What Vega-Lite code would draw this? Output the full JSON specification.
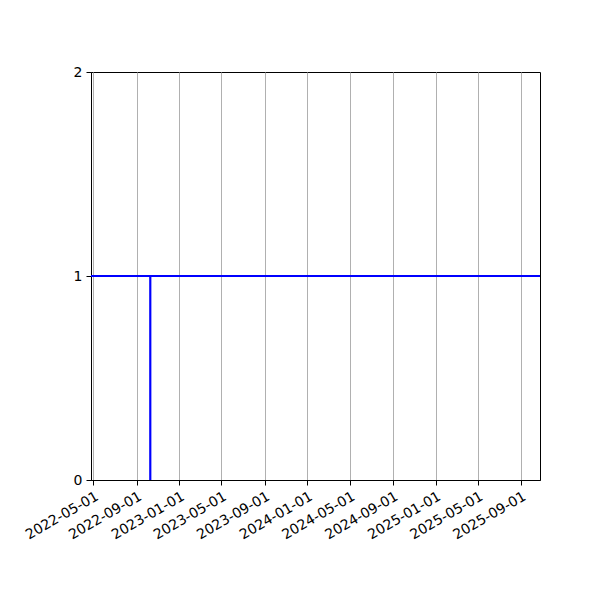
{
  "$schema": "https://vega.github.io/schema/vega-lite/v6.json",
  "width": 449,
  "height": 408,
  "autosize": "none",
  "padding": {"left": 91, "top": 72, "right": 60, "bottom": 120},
  "data": {"values": [
    {"date": "2022-10-10", "low": 0, "high": 1}
  ]},
  "encoding": {
    "x": {
      "field": "date", "type": "temporal",
      "scale": {"type": "utc", "domain": [
        {"year": 2022, "month": 4, "date": 24, "utc": true},
        {"year": 2025, "month": 10, "date": 25, "utc": true}
      ]},
      "axis": {
        "title": null, "format": "%Y-%m-%d",
        "values": [
          {"year": 2022, "month": 5, "date": 1, "utc": true},
          {"year": 2022, "month": 9, "date": 1, "utc": true},
          {"year": 2023, "month": 1, "date": 1, "utc": true},
          {"year": 2023, "month": 5, "date": 1, "utc": true},
          {"year": 2023, "month": 9, "date": 1, "utc": true},
          {"year": 2024, "month": 1, "date": 1, "utc": true},
          {"year": 2024, "month": 5, "date": 1, "utc": true},
          {"year": 2024, "month": 9, "date": 1, "utc": true},
          {"year": 2025, "month": 1, "date": 1, "utc": true},
          {"year": 2025, "month": 5, "date": 1, "utc": true},
          {"year": 2025, "month": 9, "date": 1, "utc": true}
        ],
        "labelAngle": -30, "labelAlign": "right", "labelBaseline": "top",
        "labelPadding": 4, "labelOverlap": false,
        "grid": true, "gridColor": "#b0b0b0", "gridWidth": 1
      }
    }
  },
  "layer": [
    {
      "mark": {"type": "rule", "color": "#0000ff", "strokeWidth": 2.2},
      "encoding": {
        "y": {
          "field": "low", "type": "quantitative",
          "scale": {"domain": [0, 2], "nice": false},
          "axis": {"title": null, "values": [0, 1, 2], "format": ".0f", "grid": false,
                   "labelPadding": 4, "labelOverlap": false}
        },
        "y2": {"field": "high"}
      }
    },
    {
      "mark": {"type": "rule", "color": "#0000ff", "strokeWidth": 2},
      "encoding": {
        "x": null,
        "y": {"field": "high", "type": "quantitative"}
      }
    }
  ],
  "config": {
    "font": "DejaVu Sans",
    "view": {"stroke": "#000000", "strokeWidth": 1},
    "axis": {
      "domainColor": "#000000", "domainWidth": 1,
      "tickColor": "#000000", "tickSize": 5, "tickWidth": 1,
      "labelColor": "#000000", "labelFontSize": 14, "labelFont": "DejaVu Sans",
      "labelFlush": false, "labelOverlap": false
    }
  }
}
